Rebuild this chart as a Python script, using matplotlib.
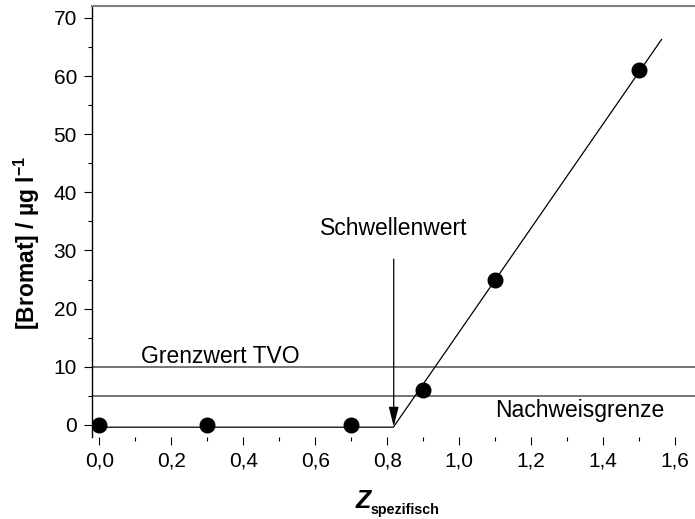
import numpy as np
import matplotlib
matplotlib.use("Agg")
import matplotlib.pyplot as plt
from matplotlib.ticker import FuncFormatter, MultipleLocator

plt.rcParams['font.family'] = ['Liberation Sans', 'DejaVu Sans']
plt.rcParams['mathtext.fontset'] = 'custom'
plt.rcParams['mathtext.rm'] = 'Liberation Sans'
plt.rcParams['mathtext.bf'] = 'Liberation Sans:bold'

# measured points
z_spez = [0.0, 0.3, 0.7, 0.9, 1.1, 1.5]
bromat = [0.0, 0.0, 0.0, 6.0, 25.0, 61.0]

# piecewise fit (flat part, then linear rise)
fit_x = [0.0, 0.817, 1.562]
fit_y = [-0.4, -0.4, 66.3]

grenzwert_tvo = 10.0
nachweisgrenze = 5.0
schwelle_x = 0.818
schwelle_arrow_y = [28.5, -0.3]

W, H = 695, 519
fig = plt.figure(figsize=(W / 100, H / 100), dpi=100)
left, right, top, bottom = 92.3, 695, 6, 436.5
ax = fig.add_axes([left / W, 1 - bottom / H, (right - left) / W, (bottom - top) / H])

ax.set_xlim(-0.0194, 1.655)
ax.set_ylim(-2, 72.06)

ax.axhline(grenzwert_tvo, color='#505050', lw=1.1)
ax.axhline(nachweisgrenze, color='#505050', lw=1.1)
ax.plot(fit_x, fit_y, color='black', lw=0.9)
ax.plot(z_spez, bromat, 'o', color='black', markersize=10.5, zorder=5)

ax.annotate('', xy=(schwelle_x, schwelle_arrow_y[1]), xytext=(schwelle_x, schwelle_arrow_y[0]),
            arrowprops=dict(arrowstyle='-|>,head_length=0.6,head_width=0.15', mutation_scale=20,
                            color='black', lw=0.9, shrinkA=0, shrinkB=0))

ax.text(schwelle_x, 32.7, 'Schwellenwert', ha='center', va='baseline', fontsize=16.5)
ax.text(0.337, 10.6, 'Grenzwert TVO', ha='center', va='baseline', fontsize=16.5)
ax.text(1.335, 1.32, 'Nachweisgrenze', ha='center', va='baseline', fontsize=16.5)

ax.xaxis.set_major_locator(MultipleLocator(0.2))
ax.xaxis.set_minor_locator(MultipleLocator(0.1))
ax.yaxis.set_major_locator(MultipleLocator(10))
ax.yaxis.set_minor_locator(MultipleLocator(5))
ax.xaxis.set_major_formatter(FuncFormatter(lambda v, p: f'{v:.1f}'.replace('.', ',')))
ax.yaxis.set_major_formatter(FuncFormatter(lambda v, p: f'{v:.0f}'))

ax.tick_params(which='both', direction='out', width=0.8, labelsize=15, color='black')
ax.tick_params(which='major', length=6, pad=5)
ax.tick_params(which='minor', length=3.2)

ax.spines['right'].set_visible(False)
ax.spines['bottom'].set_visible(False)
ax.spines['left'].set_linewidth(1.0)
ax.spines['top'].set_color('#808080')
ax.spines['top'].set_linewidth(1.5)

ax.set_ylabel(r'[Bromat] / µg l$^{\mathbf{-1}}$', fontsize=16.5, fontweight='bold')
ax.yaxis.set_label_coords(-0.083, 0.45)

fig.text(356 / W, 1 - 508.3 / H, 'Z', ha='left', va='baseline', fontsize=18,
         fontweight='bold', fontstyle='italic')
fig.text(371 / W, 1 - 514 / H, 'spezifisch', ha='left', va='baseline', fontsize=10.3,
         fontweight='bold')

fig.savefig('out.png', dpi=100)
